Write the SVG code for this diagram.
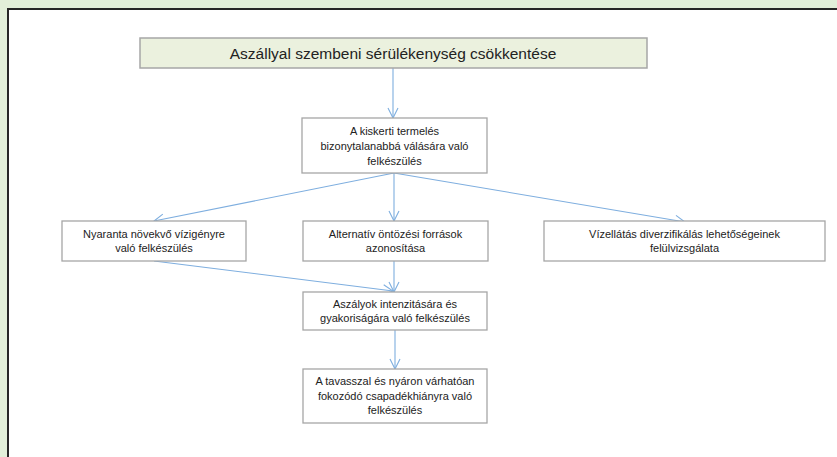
<svg xmlns="http://www.w3.org/2000/svg" width="837" height="457" viewBox="0 0 837 457">
<defs>
<style>
.box{fill:#ffffff;stroke:#a6a6a6;stroke-width:1.3}
.t{font-family:"Liberation Sans",Arial,sans-serif;font-size:11px;fill:#222;text-anchor:middle}
.c{fill:none;stroke:#7eaedf;stroke-width:1.1}
</style>
<marker id="ah" viewBox="0 0 12 12" refX="11" refY="6" markerWidth="12" markerHeight="12" markerUnits="userSpaceOnUse" orient="auto">
<path d="M1,1 L11,6 L1,11" fill="none" stroke="#7eaedf" stroke-width="1.1"/>
</marker>
</defs>
<rect x="0" y="0" width="837" height="457" fill="#e2efd9"/>
<rect x="8" y="9" width="840" height="460" fill="#ffffff" stroke="#262626" stroke-width="2"/>
<g id="connectors">
<line class="c" x1="393" y1="68" x2="393" y2="118" marker-end="url(#ah)"/>
<line class="c" x1="394" y1="173" x2="154" y2="221" marker-end="url(#ah)"/>
<line class="c" x1="394" y1="173" x2="394" y2="221" marker-end="url(#ah)"/>
<line class="c" x1="394" y1="173" x2="685" y2="222" marker-end="url(#ah)"/>
<line class="c" x1="154" y1="261" x2="393" y2="291" marker-end="url(#ah)"/>
<line class="c" x1="394" y1="261" x2="394" y2="292" marker-end="url(#ah)"/>
<line class="c" x1="395" y1="330" x2="395" y2="369" marker-end="url(#ah)"/>
</g>
<g id="n0">
<rect x="140" y="38" width="507" height="30" fill="#ebf1de" stroke="#a6a6a6" stroke-width="1.5"/>
<text x="393" y="59" style="font-family:'Liberation Sans',Arial,sans-serif;font-size:15.5px;fill:#222;text-anchor:middle">Aszállyal szembeni sérülékenység csökkentése</text>
</g>
<g id="n1">
<rect class="box" x="302" y="118" width="185" height="55"/>
<text class="t" x="394.5" y="135">A kiskerti termelés</text>
<text class="t" x="394.5" y="150">bizonytalanabbá válására való</text>
<text class="t" x="394.5" y="165">felkészülés</text>
</g>
<g id="n2">
<rect class="box" x="62" y="221" width="184" height="40"/>
<text class="t" x="154" y="238">Nyaranta növekvő vízigényre</text>
<text class="t" x="154" y="252">való felkészülés</text>
</g>
<g id="n3">
<rect class="box" x="303" y="221" width="185" height="40"/>
<text class="t" x="395.5" y="238">Alternatív öntözési források</text>
<text class="t" x="395.5" y="252">azonosítása</text>
</g>
<g id="n4">
<rect class="box" x="544" y="221" width="281" height="40"/>
<text class="t" x="684.5" y="238">Vízellátás diverzifikálás lehetőségeinek</text>
<text class="t" x="684.5" y="252">felülvizsgálata</text>
</g>
<g id="n5">
<rect class="box" x="303" y="292" width="184" height="38"/>
<text class="t" x="395" y="308">Aszályok intenzitására és</text>
<text class="t" x="395" y="322">gyakoriságára való felkészülés</text>
</g>
<g id="n6">
<rect class="box" x="303" y="369" width="184" height="54"/>
<text class="t" x="395" y="385">A tavasszal és nyáron várhatóan</text>
<text class="t" x="395" y="400">fokozódó csapadékhiányra való</text>
<text class="t" x="395" y="414">felkészülés</text>
</g>
</svg>
